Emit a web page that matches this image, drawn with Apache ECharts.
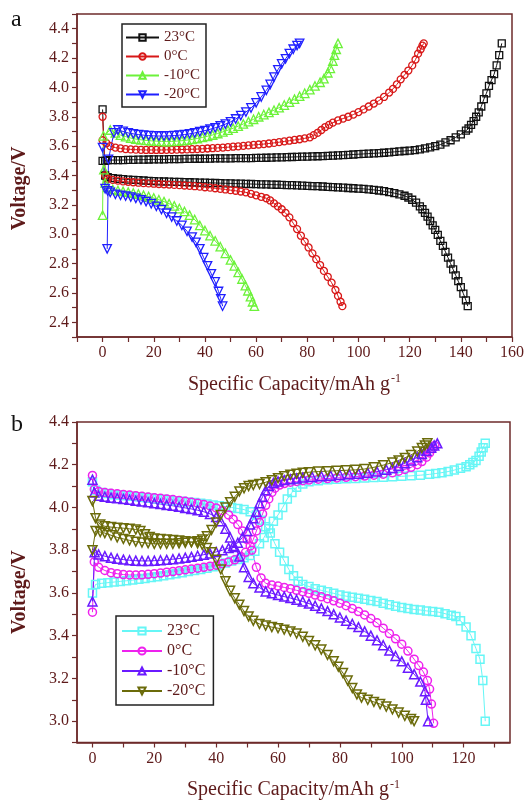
<!DOCTYPE html>
<html>
<head>
<meta charset="utf-8">
<script src="https://cdn.jsdelivr.net/npm/echarts@6.0.0/dist/echarts.min.js"></script>
<style>
  html, body { margin: 0; padding: 0; background: #fff; }
  #chart { width: 530px; height: 801px; }
</style>
</head>
<body>
<div id="chart"></div>
<script>
// panel a: capacity (mAh/g) vs voltage (V), charge (c) and discharge (d)
var a23c = [[0,3.50],[1,3.50],[2,3.505],[4,3.505],[6,3.505],[8,3.505],[10,3.507],[12,3.507],[14,3.508],[16,3.508],[18,3.509],[20,3.51],[22,3.51],[24,3.51],[26,3.511],[28,3.512],[30,3.512],[32,3.513],[34,3.513],[36,3.514],[38,3.514],[40,3.515],[42,3.515],[44,3.516],[46,3.516],[48,3.517],[50,3.517],[52,3.518],[54,3.518],[56,3.519],[58,3.519],[60,3.52],[62,3.52],[64,3.521],[66,3.522],[68,3.523],[70,3.524],[72,3.525],[74,3.526],[76,3.527],[78,3.528],[80,3.529],[82,3.53],[84,3.531],[86,3.532],[88,3.534],[90,3.535],[92,3.537],[94,3.539],[96,3.541],[98,3.543],[100,3.545],[102,3.547],[104,3.549],[106,3.551],[108,3.553],[110,3.555],[112,3.558],[114,3.561],[116,3.564],[118,3.567],[120,3.57],[122,3.573],[124,3.578],[126,3.585],[128,3.592],[130,3.60],[132,3.61],[134,3.625],[136,3.64],[138,3.66],[140,3.68],[142,3.705],[143,3.72],[144,3.745],[145,3.77],[146,3.80],[147,3.83],[148,3.87],[149,3.92],[150,3.96],[151,4.01],[152,4.05],[153,4.09],[154,4.15],[155,4.22],[156,4.30]];
var a23d = [[0,3.85],[1,3.40],[2,3.388],[4,3.382],[6,3.378],[8,3.375],[10,3.372],[12,3.37],[14,3.368],[16,3.366],[18,3.364],[20,3.362],[22,3.36],[24,3.359],[26,3.358],[28,3.357],[30,3.356],[32,3.355],[34,3.354],[36,3.353],[38,3.352],[40,3.351],[42,3.35],[44,3.349],[46,3.348],[48,3.347],[50,3.346],[52,3.345],[54,3.344],[56,3.343],[58,3.342],[60,3.341],[62,3.34],[64,3.339],[66,3.338],[68,3.337],[70,3.336],[72,3.335],[74,3.334],[76,3.333],[78,3.331],[80,3.33],[82,3.328],[84,3.327],[86,3.325],[88,3.323],[90,3.321],[92,3.319],[94,3.317],[96,3.315],[98,3.313],[100,3.311],[102,3.309],[104,3.306],[106,3.302],[108,3.298],[110,3.293],[112,3.287],[114,3.28],[116,3.272],[118,3.262],[119.5,3.25],[121,3.235],[122.5,3.215],[124,3.19],[125,3.17],[126,3.145],[127,3.12],[128,3.09],[129,3.06],[130,3.03],[131,2.995],[132,2.955],[133,2.92],[134,2.88],[135,2.84],[136,2.80],[137,2.76],[138,2.72],[139,2.68],[140,2.64],[141,2.595],[142,2.55],[142.7,2.51]];
var a0c = [[0,3.64],[1.5,3.62],[3,3.60],[5,3.59],[7,3.585],[9,3.58],[11,3.578],[13,3.576],[15,3.575],[17,3.574],[19,3.574],[21,3.574],[23,3.574],[25,3.575],[27,3.575],[29,3.576],[31,3.577],[33,3.578],[35,3.579],[37,3.58],[39,3.582],[41,3.584],[43,3.586],[45,3.588],[47,3.59],[49,3.593],[51,3.596],[53,3.599],[55,3.602],[57,3.605],[59,3.608],[61,3.611],[63,3.614],[65,3.618],[67,3.622],[69,3.627],[71,3.632],[73,3.637],[75,3.642],[77,3.647],[79,3.653],[81,3.66],[82.5,3.675],[84,3.69],[85.5,3.71],[87,3.73],[88.5,3.745],[90,3.76],[92,3.775],[94,3.788],[96,3.80],[98,3.815],[100,3.832],[102,3.85],[104,3.87],[106,3.89],[108,3.91],[110,3.935],[112,3.965],[113.5,3.99],[115,4.02],[116.5,4.055],[118,4.085],[119.5,4.115],[121,4.15],[122.3,4.19],[123.3,4.23],[124.3,4.26],[125,4.285],[125.5,4.30]];
var a0d = [[0,3.80],[1,3.40],[2,3.378],[4,3.37],[6,3.365],[8,3.36],[10,3.357],[12,3.354],[14,3.351],[16,3.348],[18,3.346],[20,3.344],[22,3.342],[24,3.34],[26,3.338],[28,3.336],[30,3.334],[32,3.332],[34,3.33],[36,3.327],[38,3.324],[40,3.32],[42,3.317],[44,3.313],[46,3.309],[48,3.305],[50,3.30],[52,3.296],[54,3.291],[56,3.285],[58,3.275],[60,3.265],[62,3.255],[64,3.245],[65.5,3.23],[67,3.21],[68.5,3.19],[70,3.17],[71.5,3.145],[73,3.115],[74.5,3.075],[76,3.035],[77.5,2.99],[79,2.95],[80.5,2.91],[82,2.87],[83.5,2.83],[85,2.79],[86.5,2.75],[88,2.71],[89.5,2.67],[91,2.62],[92,2.58],[93,2.54],[93.7,2.51]];
var a10c = [[0,3.13],[0.3,3.67],[3,3.71],[5,3.69],[7,3.675],[9,3.665],[11,3.655],[13,3.648],[15,3.643],[17,3.639],[19,3.636],[21,3.634],[23,3.632],[25,3.631],[27,3.632],[29,3.634],[31,3.637],[33,3.641],[35,3.646],[37,3.652],[39,3.659],[41,3.667],[43,3.676],[45,3.686],[47,3.697],[49,3.709],[51,3.722],[53,3.736],[55,3.751],[57,3.767],[59,3.783],[61,3.80],[63,3.815],[65,3.83],[67,3.845],[69,3.862],[71,3.88],[73,3.90],[75,3.92],[77,3.94],[79,3.96],[81,3.985],[83,4.01],[85,4.035],[86.5,4.06],[88,4.10],[89,4.13],[90,4.18],[90.6,4.22],[91.3,4.26],[92,4.30]];
var a10d = [[0.5,3.44],[1,3.35],[2,3.32],[4,3.305],[6,3.298],[8,3.292],[10,3.287],[12,3.281],[14,3.274],[16,3.266],[18,3.257],[20,3.247],[22,3.235],[24,3.222],[26,3.208],[28,3.193],[30,3.175],[32,3.155],[34,3.13],[36,3.10],[38,3.06],[40,3.025],[42,2.99],[44,2.955],[46,2.915],[48,2.87],[50,2.825],[51.5,2.785],[53,2.74],[54.5,2.695],[55.8,2.65],[56.8,2.615],[57.8,2.575],[58.6,2.54],[59.3,2.51]];
var a20c = [[1.8,2.90],[2.3,3.51],[4.4,3.69],[6,3.71],[8,3.70],[10,3.69],[12,3.684],[14,3.679],[16,3.675],[18,3.672],[20,3.67],[22,3.669],[24,3.669],[26,3.67],[28,3.672],[30,3.675],[32,3.679],[34,3.684],[36,3.69],[38,3.698],[40,3.706],[42,3.715],[44,3.725],[46,3.737],[48,3.75],[50,3.765],[52,3.785],[54,3.808],[56,3.832],[58,3.86],[60,3.895],[62,3.935],[64,3.98],[65.5,4.02],[67,4.07],[68.5,4.12],[70,4.16],[71.5,4.195],[73,4.23],[74.5,4.26],[76,4.285],[77,4.30]];
var a20d = [[0,3.59],[1,3.31],[2,3.295],[3,3.285],[5,3.272],[7,3.265],[9,3.26],[11,3.253],[13,3.244],[15,3.233],[17,3.222],[19,3.208],[21,3.19],[23,3.168],[25,3.143],[27,3.117],[29,3.09],[31,3.06],[33,3.02],[35,2.98],[36.5,2.945],[38,2.90],[39.5,2.84],[41,2.785],[42.5,2.73],[44,2.675],[45.3,2.61],[46.2,2.56],[46.9,2.51]];

// panel b
var b23c = [[0,3.60],[1,3.64],[3,3.645],[5,3.648],[7,3.651],[9,3.654],[11,3.657],[13,3.66],[15,3.664],[17,3.668],[19,3.672],[21,3.676],[23,3.68],[25,3.685],[27,3.69],[29,3.695],[31,3.70],[33,3.705],[35,3.71],[37,3.716],[39,3.723],[41,3.731],[43,3.74],[45,3.749],[47,3.757],[49,3.765],[51,3.775],[52.5,3.795],[54,3.83],[55.5,3.86],[57,3.90],[58.5,3.935],[60,3.965],[61.5,4.00],[63,4.04],[64.5,4.07],[66,4.095],[68,4.11],[70,4.12],[73,4.125],[76,4.13],[79,4.132],[82,4.134],[85,4.136],[88,4.138],[91,4.14],[94,4.142],[97,4.144],[100,4.146],[103,4.148],[106,4.151],[109,4.155],[111,4.159],[113,4.163],[115,4.168],[117,4.175],[119,4.183],[120.8,4.19],[122,4.20],[123,4.21],[124,4.22],[125,4.24],[125.7,4.26],[126.3,4.28],[127,4.30]];
var b23d = [[0,4.12],[1,4.08],[3,4.07],[5,4.065],[7,4.06],[9,4.058],[11,4.055],[13,4.052],[15,4.05],[17,4.047],[19,4.044],[21,4.041],[23,4.038],[25,4.035],[27,4.032],[29,4.029],[31,4.026],[33,4.023],[35,4.02],[37,4.016],[39,4.012],[41,4.008],[43,4.004],[45,4.00],[47,3.995],[49,3.99],[51,3.98],[53,3.965],[54.5,3.94],[56,3.91],[57.5,3.88],[59,3.83],[60.5,3.79],[62,3.75],[63.5,3.71],[65,3.68],[66.5,3.655],[68,3.64],[70,3.63],[72,3.62],[74,3.612],[76,3.605],[78,3.598],[80,3.59],[82,3.585],[84,3.58],[86,3.575],[88,3.57],[90,3.565],[92,3.56],[94,3.552],[96,3.545],[98,3.538],[100,3.532],[102,3.527],[104,3.523],[106,3.52],[108,3.516],[110,3.513],[112,3.51],[114,3.503],[116,3.495],[117.5,3.49],[119,3.47],[120.8,3.44],[122.4,3.40],[124,3.34],[125.3,3.29],[126.2,3.19],[127,3.00]];
var b0c = [[0,3.51],[0.6,3.745],[2,3.72],[4,3.705],[6,3.695],[8,3.69],[10,3.686],[12,3.684],[14,3.684],[16,3.685],[18,3.687],[20,3.69],[22,3.693],[24,3.697],[26,3.70],[28,3.704],[30,3.708],[32,3.712],[34,3.716],[36,3.72],[38,3.725],[40,3.73],[42,3.737],[44,3.745],[46,3.755],[48,3.77],[49.5,3.79],[51,3.82],[52,3.85],[53,3.89],[54,3.93],[55,3.97],[56,4.01],[57,4.04],[58,4.07],[59,4.09],[60.5,4.105],[62,4.112],[64,4.118],[66,4.122],[68,4.125],[70,4.128],[73,4.132],[76,4.135],[79,4.138],[82,4.141],[85,4.144],[88,4.147],[91,4.151],[94,4.156],[97,4.163],[99,4.17],[101,4.178],[103,4.188],[105,4.20],[106.5,4.215],[108,4.235],[109,4.255],[110,4.275],[110.7,4.29]];
var b0d = [[0,4.15],[0.6,4.085],[2,4.075],[4,4.07],[6,4.067],[8,4.064],[10,4.061],[12,4.058],[14,4.055],[16,4.052],[18,4.049],[20,4.046],[22,4.043],[24,4.04],[26,4.037],[28,4.033],[30,4.029],[32,4.025],[34,4.02],[36,4.014],[38,4.007],[40,3.998],[42,3.985],[44,3.965],[45.5,3.945],[47,3.92],[48.5,3.89],[50,3.85],[51.5,3.80],[53,3.72],[54.5,3.67],[56,3.645],[58,3.637],[60,3.632],[62,3.626],[64,3.62],[66,3.612],[68,3.605],[70,3.598],[72,3.59],[74,3.582],[76,3.573],[78,3.563],[80,3.552],[82,3.54],[84,3.527],[86,3.513],[88,3.497],[90,3.48],[92,3.46],[94,3.435],[96,3.41],[98,3.385],[100,3.36],[102,3.328],[104,3.29],[105.5,3.26],[107,3.23],[108.3,3.19],[109,3.15],[109.6,3.08],[110.3,2.99]];
var b10c = [[0,3.56],[0.7,3.79],[2,3.78],[4,3.772],[6,3.765],[8,3.76],[10,3.756],[12,3.753],[14,3.751],[16,3.75],[18,3.75],[20,3.751],[22,3.753],[24,3.755],[26,3.758],[28,3.761],[30,3.765],[32,3.769],[34,3.774],[36,3.779],[38,3.785],[40,3.792],[42,3.80],[44,3.81],[45.5,3.82],[47,3.835],[48.5,3.86],[50,3.89],[51,3.92],[52,3.95],[53,3.98],[54,4.02],[55,4.05],[56,4.08],[57,4.10],[58.5,4.115],[60,4.122],[62,4.128],[64,4.132],[66,4.136],[68,4.14],[71,4.143],[74,4.146],[77,4.149],[80,4.152],[83,4.155],[86,4.158],[89,4.162],[92,4.168],[95,4.177],[97,4.185],[99,4.195],[101,4.207],[103,4.22],[105,4.235],[106.5,4.25],[108,4.265],[109.5,4.28],[110.5,4.29],[111.5,4.30]];
var b10d = [[0,4.13],[0.6,4.07],[2,4.055],[4,4.05],[6,4.046],[8,4.043],[10,4.04],[12,4.036],[14,4.032],[16,4.028],[18,4.024],[20,4.02],[22,4.016],[24,4.012],[26,4.008],[28,4.003],[30,3.998],[32,3.993],[34,3.987],[36,3.98],[38,3.97],[40,3.955],[41.5,3.935],[43,3.90],[44.5,3.86],[46,3.815],[47.5,3.77],[49,3.72],[50.5,3.675],[52,3.645],[54,3.625],[56,3.607],[58,3.598],[60,3.59],[62,3.583],[64,3.576],[66,3.568],[68,3.56],[70,3.55],[72,3.54],[74,3.528],[76,3.515],[78,3.50],[80,3.485],[82,3.47],[84,3.455],[86,3.44],[88,3.42],[90,3.40],[92,3.378],[94,3.355],[96,3.33],[98,3.305],[100,3.28],[102,3.25],[104,3.22],[106,3.185],[107.5,3.14],[107.8,3.10],[108.5,3.00]];
var b20c = [[0,3.80],[1,3.89],[2.5,3.885],[4,3.88],[6,3.87],[8,3.86],[10,3.853],[12,3.846],[14,3.84],[16,3.836],[18,3.833],[20,3.83],[22,3.83],[24,3.83],[26,3.83],[28,3.832],[30,3.835],[32,3.838],[34,3.842],[35.5,3.85],[37,3.865],[38.5,3.895],[40,3.93],[41.5,3.965],[43,4.00],[44.5,4.025],[46,4.05],[47.5,4.075],[49,4.09],[50.5,4.10],[52,4.105],[54,4.11],[56,4.118],[58,4.127],[60,4.137],[62,4.146],[64,4.153],[66,4.158],[68,4.162],[70,4.165],[73,4.168],[76,4.17],[79,4.172],[82,4.174],[85,4.176],[88,4.18],[91,4.188],[94,4.198],[97,4.21],[99,4.22],[101,4.232],[103,4.246],[105,4.262],[106.5,4.278],[107.5,4.29],[108.3,4.30]];
var b20d = [[0,4.03],[1,3.95],[2.5,3.92],[4,3.912],[6,3.908],[8,3.905],[10,3.903],[12,3.90],[14,3.897],[15.5,3.89],[17,3.875],[18.5,3.862],[20,3.855],[22,3.852],[24,3.85],[26,3.848],[28,3.845],[30,3.842],[32,3.838],[34,3.832],[35.5,3.825],[37,3.81],[38.5,3.79],[40,3.755],[41.5,3.71],[43,3.655],[44.5,3.61],[46,3.575],[47.5,3.545],[49,3.515],[50.5,3.49],[52,3.47],[54,3.455],[56,3.447],[58,3.44],[60,3.435],[62,3.428],[64,3.42],[66,3.41],[68,3.395],[70,3.375],[72,3.355],[74,3.335],[76,3.31],[78,3.28],[79.5,3.255],[81,3.225],[82.5,3.19],[84,3.155],[85.5,3.125],[87,3.11],[89,3.10],[91,3.09],[93,3.08],[95,3.068],[97,3.055],[99,3.04],[101,3.025],[103,3.01],[104,3.00]];

var tempsA = ['23°C', '0°C', '-10°C', '-20°C'];
var tempsB = ['23°C', '0°C', '-10°C', '-20°C'];
var xTicksA = [0, 20, 40, 60, 80, 100, 120, 140, 160];
var xTicksB = [0, 20, 40, 60, 80, 100, 120];

var axisColor = '#6e2b2b';
var textColor = '#5e1a1a';
var font = 'Liberation Serif';

var myChart = echarts.init(document.getElementById('chart'));

function lineSeries(name, data, gi, symbol, rotate, color, size, bw) {
    return {
        name: name,
        type: 'line',
        xAxisIndex: gi,
        yAxisIndex: gi,
        data: data,
        symbol: symbol,
        symbolRotate: rotate,
        symbolSize: size,
        showAllSymbol: true,
        smooth: false,
        lineStyle: { color: color, width: 1 },
        itemStyle: { color: 'rgba(255,255,255,0)', borderColor: color, borderWidth: bw },
        emphasis: { disabled: true }
    };
}

function xAxis(gi, min, max, labels, ticks, gap) {
    return {
        type: 'value',
        gridIndex: gi,
        min: min,
        max: max,
        axisLine: { show: true, onZero: false, lineStyle: { color: axisColor, width: 1.5 } },
        axisTick: { show: true, length: 5, customValues: ticks, lineStyle: { color: axisColor, width: 1.2 } },
        axisLabel: { customValues: labels, color: textColor, fontFamily: font, fontSize: 16, margin: 8 },
        splitLine: { show: false },
        name: '{m|Specific Capacity/mAh g}{s|-1}',
        nameLocation: 'middle',
        nameGap: gap,
        nameTextStyle: {
            rich: {
                m: { color: textColor, fontFamily: font, fontSize: 20 },
                s: { color: textColor, fontFamily: font, fontSize: 12, verticalAlign: 'top', padding: [0, 0, 11, 1] }
            }
        }
    };
}

// the rotated title sits a little below the middle of the plot in the original
function yAxis(gi, min, max, shift) {
    return {
        type: 'value',
        gridIndex: gi,
        min: min,
        max: max,
        interval: 0.1,
        axisLine: { show: true, onZero: false, lineStyle: { color: axisColor, width: 1.5 } },
        axisTick: { show: true, length: 5, lineStyle: { color: axisColor, width: 1.2 } },
        axisLabel: {
            color: textColor, fontFamily: font, fontSize: 16, margin: 8,
            formatter: function (v) {
                return Math.round(v * 10) % 2 === 0 ? v.toFixed(1) : '';
            }
        },
        splitLine: { show: false },
        name: 'Voltage/V',
        nameLocation: 'middle',
        nameGap: 47,
        nameTextStyle: { color: textColor, fontFamily: font, fontSize: 20, fontWeight: 'bold', padding: [0, shift, 0, 0] }
    };
}

function tenTicks(from, to) {
    var out = [];
    for (var v = from; v <= to; v += 10) out.push(v);
    return out;
}

var legendBase = {
    orient: 'vertical',
    borderColor: '#222',
    borderWidth: 1.5,
    itemGap: 4,
    formatter: function (n) { return n.slice(2); },
    selectedMode: false
};

option = {
    animation: false,
    backgroundColor: '#fff',
    grid: [
        { left: 77, top: 14, right: 18, bottom: 464, show: true, borderColor: axisColor, borderWidth: 1.5 },
        { left: 77, top: 422, right: 20, bottom: 58, show: true, borderColor: axisColor, borderWidth: 1.5 }
    ],
    xAxis: [
        xAxis(0, -10, 160, xTicksA, tenTicks(-10, 160), 36),
        xAxis(1, -5, 135, xTicksB, tenTicks(0, 130), 36)
    ],
    yAxis: [yAxis(0, 2.3, 4.5, 26), yAxis(1, 2.9, 4.4, 20)],
    legend: [
        echarts.util.extend({
            left: 122, top: 24,
            padding: [6, 6, 5, 3],
            itemWidth: 33, itemHeight: 8,
            data: tempsA.map(function (t) { return 'a:' + t; }),
            textStyle: { color: textColor, fontFamily: font, fontSize: 15, lineHeight: 15 }
        }, legendBase),
        echarts.util.extend({
            left: 116, top: 616,
            padding: [7, 8, 6, 5],
            itemWidth: 40, itemHeight: 9,
            data: tempsB.map(function (t) { return 'b:' + t; }),
            textStyle: { color: textColor, fontFamily: font, fontSize: 16, lineHeight: 16 }
        }, legendBase)
    ],
    graphic: [
        { type: 'text', left: 11, top: 8, style: { text: 'a', font: '24px "Liberation Serif"', fill: '#111' } },
        { type: 'text', left: 11, top: 413, style: { text: 'b', font: '24px "Liberation Serif"', fill: '#111' } }
    ],
    series: [
        lineSeries('a:23°C', a23c, 0, 'rect', 0, '#111111', 7, 1.3),
        lineSeries('a:23°C', a23d, 0, 'rect', 0, '#111111', 7, 1.3),
        lineSeries('a:0°C', a0c, 0, 'circle', 0, '#d81818', 7, 1.3),
        lineSeries('a:0°C', a0d, 0, 'circle', 0, '#d81818', 7, 1.3),
        lineSeries('a:-10°C', a10c, 0, 'triangle', 0, '#6cf23a', 8.5, 1.3),
        lineSeries('a:-10°C', a10d, 0, 'triangle', 0, '#6cf23a', 8.5, 1.3),
        lineSeries('a:-20°C', a20c, 0, 'triangle', 180, '#1f1fff', 8.5, 1.3),
        lineSeries('a:-20°C', a20d, 0, 'triangle', 180, '#1f1fff', 8.5, 1.3),
        lineSeries('b:23°C', b23c, 1, 'rect', 0, '#66f6f6', 8, 1.5),
        lineSeries('b:23°C', b23d, 1, 'rect', 0, '#66f6f6', 8, 1.5),
        lineSeries('b:0°C', b0c, 1, 'circle', 0, '#ee22ee', 8, 1.5),
        lineSeries('b:0°C', b0d, 1, 'circle', 0, '#ee22ee', 8, 1.5),
        lineSeries('b:-10°C', b10c, 1, 'triangle', 0, '#6a1aff', 9, 1.5),
        lineSeries('b:-10°C', b10d, 1, 'triangle', 0, '#6a1aff', 9, 1.5),
        lineSeries('b:-20°C', b20c, 1, 'triangle', 180, '#6b6b0a', 9, 1.5),
        lineSeries('b:-20°C', b20d, 1, 'triangle', 180, '#6b6b0a', 9, 1.5)
    ]
};

myChart.setOption(option);
</script>
</body>
</html>
